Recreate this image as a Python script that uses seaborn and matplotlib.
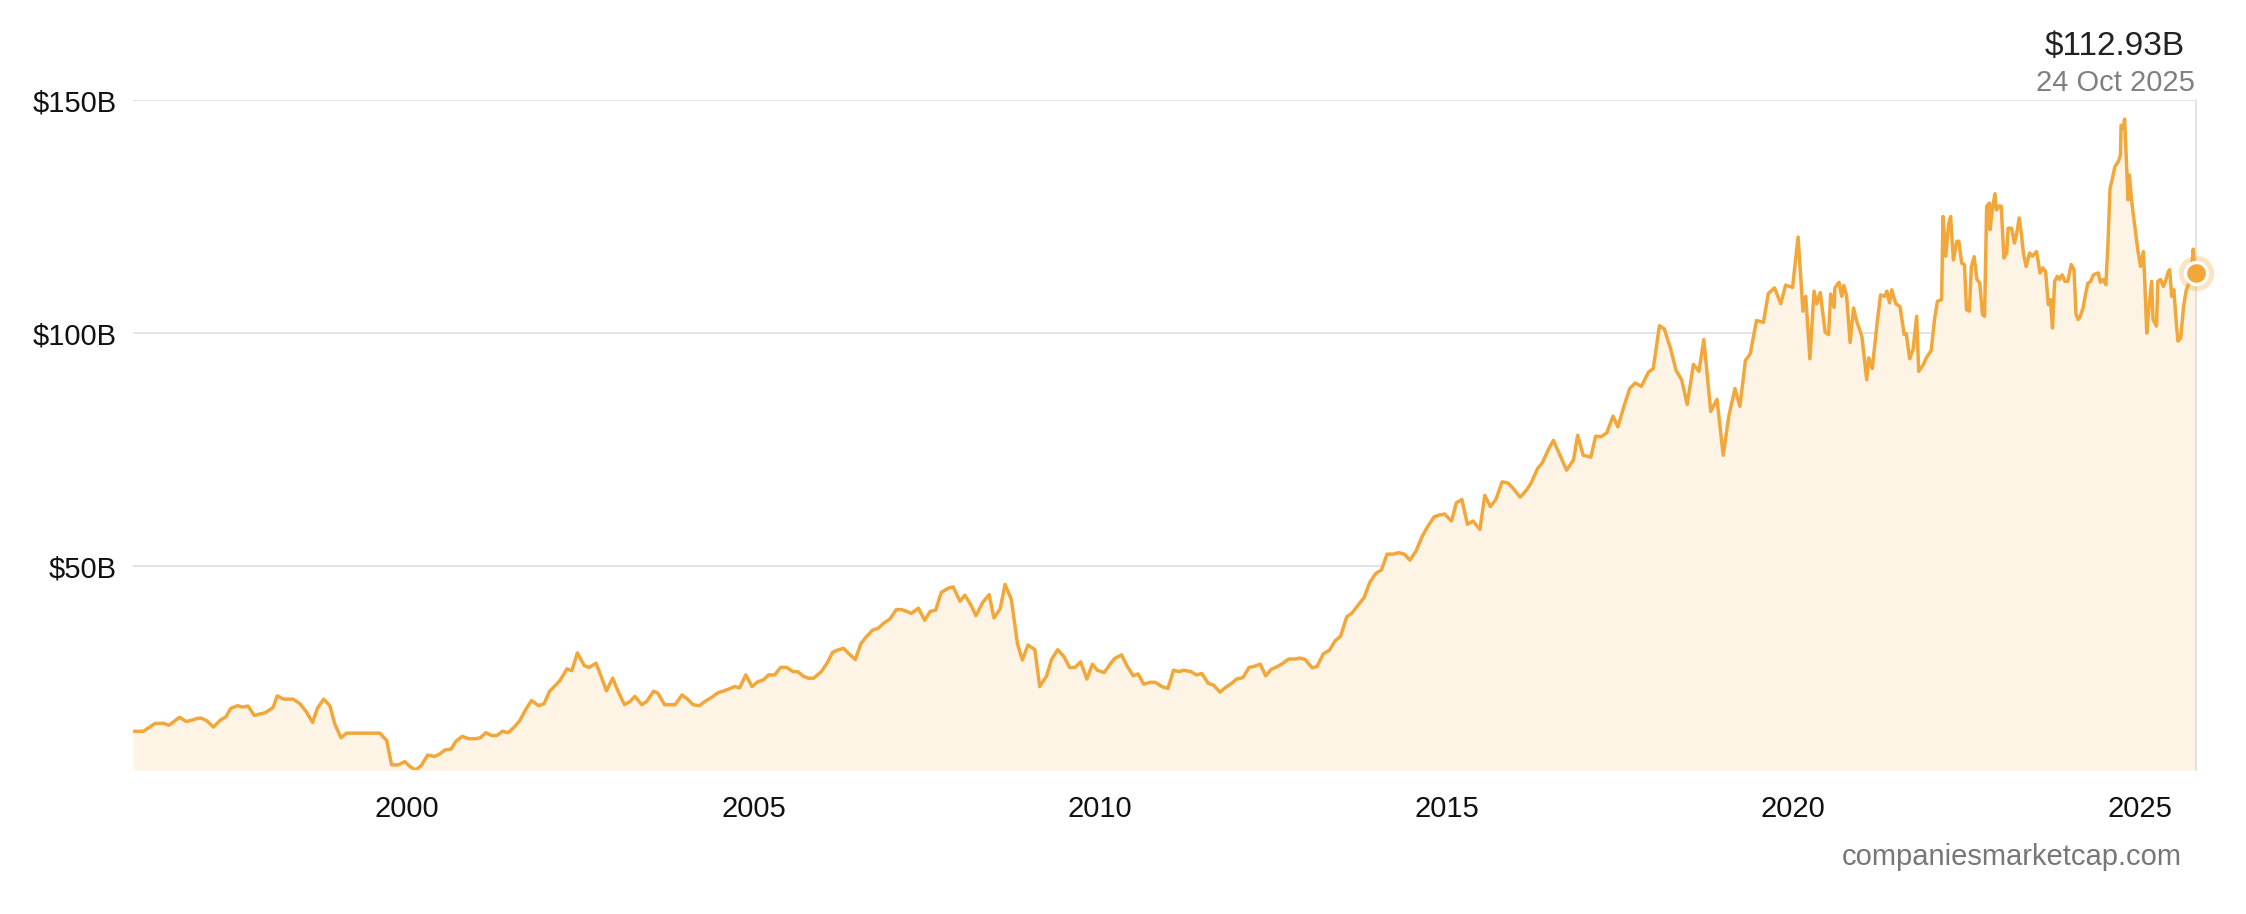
import numpy as np
import pandas as pd
import matplotlib
matplotlib.use("Agg")
import matplotlib.pyplot as plt
import seaborn as sns

# ---------------- data (decimal years, market cap in $B) ----------------
years = [
    1996.05, 1996.20, 1996.37, 1996.49, 1996.57, 1996.72, 1996.82, 1996.90, 1996.99, 1997.04,
    1997.12, 1997.21, 1997.31, 1997.39, 1997.46, 1997.56, 1997.62, 1997.71, 1997.80, 1997.88,
    1997.96, 1998.07, 1998.13, 1998.22, 1998.36, 1998.46, 1998.55, 1998.64, 1998.71, 1998.80,
    1998.89, 1998.96, 1999.05, 1999.13, 1999.23, 1999.61, 1999.71, 1999.78, 1999.88, 1999.97,
    2000.05, 2000.13, 2000.21, 2000.30, 2000.40, 2000.47, 2000.55, 2000.64, 2000.71, 2000.80,
    2000.90, 2000.98, 2001.06, 2001.14, 2001.22, 2001.30, 2001.38, 2001.46, 2001.55,
    2001.63, 2001.72, 2001.80, 2001.90, 2001.98, 2002.06, 2002.14, 2002.21, 2002.31, 2002.38,
    2002.46, 2002.56, 2002.63, 2002.73, 2002.80, 2002.88, 2002.97, 2003.05, 2003.14, 2003.22,
    2003.29, 2003.39, 2003.46, 2003.56, 2003.62, 2003.72, 2003.87, 2003.97, 2004.05, 2004.13,
    2004.22, 2004.30, 2004.40, 2004.48, 2004.58, 2004.65, 2004.73, 2004.80, 2004.89, 2004.98,
    2005.06, 2005.14, 2005.22, 2005.31, 2005.39, 2005.48, 2005.57, 2005.64, 2005.72, 2005.79,
    2005.87, 2005.98, 2006.07, 2006.14, 2006.21, 2006.30, 2006.38, 2006.47, 2006.55, 2006.63,
    2006.72, 2006.80, 2006.88, 2006.97, 2007.06, 2007.14, 2007.28, 2007.38,
    2007.47, 2007.55, 2007.63, 2007.71, 2007.80, 2007.88, 2007.98, 2008.05, 2008.13, 2008.21,
    2008.31, 2008.40, 2008.47, 2008.56, 2008.63, 2008.72, 2008.81, 2008.88, 2008.96, 2009.06,
    2009.13, 2009.23, 2009.30, 2009.39, 2009.48, 2009.56, 2009.64, 2009.72, 2009.81, 2009.89,
    2009.96, 2010.06, 2010.14, 2010.21, 2010.31, 2010.39, 2010.48, 2010.55, 2010.63, 2010.72,
    2010.80, 2010.89, 2010.98, 2011.06, 2011.14, 2011.21, 2011.31, 2011.39, 2011.47, 2011.56,
    2011.64, 2011.73, 2011.81, 2011.90, 2011.97, 2012.06, 2012.15, 2012.22, 2012.31, 2012.39,
    2012.47, 2012.56, 2012.63, 2012.72, 2012.81,
    2012.88, 2012.96, 2013.06, 2013.13, 2013.22, 2013.31, 2013.39, 2013.47, 2013.56, 2013.63,
    2013.72, 2013.81, 2013.89, 2013.98, 2014.06, 2014.14, 2014.23, 2014.31, 2014.39, 2014.47,
    2014.56, 2014.65, 2014.73, 2014.82, 2014.90, 2014.97, 2015.07, 2015.14, 2015.22, 2015.30,
    2015.38, 2015.48, 2015.55, 2015.63, 2015.71, 2015.80, 2015.89, 2015.97, 2016.06, 2016.15,
    2016.22, 2016.31, 2016.38, 2016.47, 2016.54, 2016.63, 2016.73, 2016.83, 2016.89, 2016.97,
    2017.08, 2017.15, 2017.23, 2017.31, 2017.40, 2017.47, 2017.56, 2017.64, 2017.72, 2017.81,
    2017.91, 2017.98, 2018.07, 2018.14, 2018.23, 2018.31, 2018.39, 2018.47, 2018.56, 2018.64,
    2018.71,
    2018.81, 2018.90, 2018.99, 2019.07, 2019.16, 2019.23, 2019.31, 2019.38, 2019.47, 2019.57,
    2019.64, 2019.73, 2019.82, 2019.89, 2019.99, 2020.07, 2020.14, 2020.18, 2020.24, 2020.30,
    2020.34, 2020.39, 2020.46, 2020.51, 2020.54, 2020.59, 2020.60, 2020.66, 2020.70, 2020.73,
    2020.77, 2020.82, 2020.87, 2020.91, 2020.99, 2021.06, 2021.09, 2021.14, 2021.21, 2021.26,
    2021.32, 2021.35, 2021.39, 2021.42, 2021.48, 2021.54, 2021.60, 2021.63, 2021.68, 2021.73,
    2021.78, 2021.81, 2021.88, 2021.92, 2021.99, 2022.04, 2022.08, 2022.14, 2022.16, 2022.20,
    2022.24, 2022.27, 2022.31, 2022.36, 2022.39, 2022.43, 2022.47, 2022.50, 2022.54, 2022.57,
    2022.61, 2022.65,
    2022.69, 2022.73, 2022.76, 2022.79, 2022.83, 2022.84, 2022.87, 2022.91, 2022.93, 2022.97,
    2023.00, 2023.04, 2023.08, 2023.10, 2023.15, 2023.19, 2023.22, 2023.26, 2023.29, 2023.32,
    2023.36, 2023.41, 2023.45, 2023.51, 2023.56, 2023.60, 2023.64, 2023.68, 2023.71, 2023.74,
    2023.77, 2023.81, 2023.84, 2023.88, 2023.92, 2023.96, 2024.01, 2024.05, 2024.08, 2024.11,
    2024.14, 2024.18, 2024.22, 2024.25, 2024.29, 2024.33, 2024.36, 2024.40, 2024.43, 2024.47,
    2024.51, 2024.54, 2024.57, 2024.60, 2024.64, 2024.69, 2024.72, 2024.73, 2024.76, 2024.78,
    2024.81, 2024.83, 2024.85, 2024.88, 2024.90, 2024.94, 2024.97, 2025.01, 2025.05, 2025.07,
    2025.10, 2025.13, 2025.17, 2025.19, 2025.24, 2025.26, 2025.30, 2025.34, 2025.37, 2025.41,
    2025.43, 2025.46, 2025.49, 2025.53, 2025.55, 2025.59, 2025.63, 2025.67, 2025.71, 2025.74,
    2025.77, 2025.79, 2025.81,
]

market_cap = [
    14.6, 14.6, 16.3, 16.3, 15.9, 17.6, 16.7, 17.0, 17.4, 17.4,
    16.8, 15.5, 17.0, 17.7, 19.5, 20.1, 19.8, 20.0, 18.0, 18.3,
    18.6, 19.7, 22.2, 21.5, 21.5, 20.5, 18.8, 16.5, 19.5, 21.5,
    20.1, 16.2, 13.2, 14.2, 14.2, 14.2, 12.6, 7.4, 7.4, 8.1,
    7.0, 6.3, 7.3, 9.5, 9.2, 9.7, 10.6, 10.8, 12.5, 13.5,
    13.0, 13.0, 13.2, 14.3, 13.7, 13.7, 14.6, 14.3, 15.5,
    16.9, 19.4, 21.2, 20.1, 20.5, 23.2, 24.4, 25.5, 28.0, 27.6,
    31.4, 28.7, 28.3, 29.2, 26.5, 23.3, 26.0, 23.1, 20.3, 21.0,
    22.1, 20.3, 21.0, 23.2, 22.8, 20.3, 20.3, 22.4, 21.5, 20.3,
    20.1, 21.0, 21.9, 22.8, 23.3, 23.7, 24.2, 23.9, 26.7, 24.2,
    25.2, 25.6, 26.7, 26.7, 28.3, 28.3, 27.4, 27.4, 26.4, 26.0,
    26.0, 27.4, 29.4, 31.5, 32.0, 32.4, 31.2, 30.0, 33.4, 34.9,
    36.3, 36.7, 37.8, 38.7, 40.7, 40.7, 39.9, 41.0,
    38.4, 40.3, 40.6, 44.4, 45.2, 45.6, 42.5, 43.8, 41.9, 39.4,
    42.3, 43.9, 38.9, 40.9, 46.1, 42.9, 33.3, 29.9, 33.1, 32.1,
    24.2, 26.5, 30.0, 32.1, 30.6, 28.3, 28.3, 29.5, 25.8, 29.0,
    27.7, 27.2, 28.9, 30.2, 31.0, 28.6, 26.5, 26.9, 24.7, 25.1,
    25.1, 24.2, 23.8, 27.7, 27.4, 27.7, 27.4, 26.7, 27.0, 24.9,
    24.5, 23.0, 24.0, 24.9, 25.8, 26.1, 28.3, 28.5, 29.0, 26.5,
    27.9, 28.5, 29.1, 30.1, 30.1,
    30.3, 30.0, 28.2, 28.5, 31.2, 32.0, 34.0, 35.0, 39.2, 39.9,
    41.6, 43.3, 46.5, 48.5, 49.2, 52.6, 52.6, 52.9, 52.6, 51.3,
    53.3, 56.5, 58.6, 60.6, 61.0, 61.2, 59.7, 63.6, 64.3, 59.0,
    59.7, 57.9, 65.2, 62.8, 64.3, 68.1, 67.8, 66.5, 64.8, 66.3,
    67.9, 70.9, 72.2, 75.1, 77.0, 74.0, 70.6, 72.8, 78.1, 73.8,
    73.4, 77.9, 77.8, 78.6, 82.2, 79.9, 84.4, 88.1, 89.3, 88.6,
    91.6, 92.4, 101.6, 100.9, 96.7, 92.0, 90.0, 84.7, 93.3, 91.8,
    98.6,
    83.2, 85.8, 73.8, 82.2, 88.1, 84.3, 94.1, 95.6, 102.7, 102.3,
    108.5, 109.7, 106.3, 110.3, 109.8, 120.6, 104.7, 107.9, 94.5, 109.0,
    106.3, 108.7, 100.2, 99.7, 108.4, 105.5, 109.7, 110.9, 107.9, 110.2,
    108.0, 98.0, 105.4, 102.8, 99.3, 90.0, 94.7, 92.4, 102.2, 108.2,
    107.9, 109.0, 106.5, 109.3, 106.3, 105.7, 99.7, 99.9, 94.5, 96.6,
    103.6, 91.8, 93.3, 94.7, 96.3, 103.2, 106.8, 107.2, 125.0, 116.5,
    123.2, 125.0, 115.7, 119.7, 119.7, 115.0, 114.7, 105.0, 104.7, 114.3,
    116.4, 111.5,
    110.8, 104.0, 103.6, 127.2, 127.9, 122.2, 126.4, 129.9, 126.4, 127.3,
    127.2, 116.1, 117.2, 122.5, 122.5, 119.3, 121.1, 124.7, 121.4, 117.2,
    114.3, 117.2, 116.5, 117.5, 112.9, 114.0, 113.2, 106.1, 107.2, 101.1,
    111.1, 112.2, 111.5, 112.5, 111.1, 111.1, 114.7, 113.6, 104.0, 102.9,
    103.6, 105.4, 108.6, 110.7, 111.1, 112.5, 112.7, 112.9, 110.9, 111.5,
    110.4, 119.3, 131.1, 132.9, 135.7, 136.8, 138.2, 144.6, 143.9, 145.9,
    135.7, 128.6, 133.9, 128.6, 126.1, 121.4, 117.9, 114.3, 117.5, 111.5,
    100.0, 105.4, 111.1, 102.9, 101.5, 111.1, 111.5, 110.0, 111.1, 113.2,
    113.6, 107.9, 109.3, 101.5, 98.3, 99.0, 105.7, 109.3, 110.7, 112.5,
    118.0, 112.9, 112.93,
]

x_ticks = [2000, 2005, 2010, 2015, 2020, 2025]
x_tick_labels = ["2000", "2005", "2010", "2015", "2020", "2025"]
y_ticks = [50, 100, 150]
y_tick_labels = ["$50B", "$100B", "$150B"]

last_value_label = "$112.93B"
last_date_label = "24 Oct 2025"
source_label = "companiesmarketcap.com"

# ---------------- plotting ----------------
df = pd.DataFrame({"year": years, "cap": market_cap})

sns.set_theme(style="white")
plt.rcParams["font.family"] = ["Liberation Sans", "DejaVu Sans"]

W, H = 2246, 914
fig = plt.figure(figsize=(W / 100, H / 100), dpi=100)
ax = fig.add_axes([133 / W, 1 - 770 / H, (2196 - 133) / W, (770 - 100) / H])

LINE = "#F2A73B"
FILL = "#FDF4E5"

ymin = min(market_cap)
ax.fill_between(df["year"], df["cap"], ymin, color=FILL, linewidth=0, zorder=1)
sns.lineplot(data=df, x="year", y="cap", ax=ax, color=LINE, linewidth=2.5, zorder=3,
             estimator=None, sort=False)

ax.set_xlim(years[0], years[-1])
ax.set_ylim(ymin, 150)

ax.set_yticks(y_ticks)
ax.set_yticklabels(y_tick_labels)
ax.set_xticks(x_ticks)
ax.set_xticklabels(x_tick_labels)
ax.set_xlabel("")
ax.set_ylabel("")

ax.yaxis.grid(True, color="#DCDCDC", linewidth=1.1, zorder=0)
ax.xaxis.grid(False)
ax.set_axisbelow(True)
for side in ["left", "top", "bottom"]:
    ax.spines[side].set_visible(False)
ax.spines["right"].set_color("#DCDCDC")
ax.spines["right"].set_linewidth(1.1)

ax.tick_params(axis="y", length=0, pad=12, labelsize=21, labelcolor="#111111")
ax.tick_params(axis="x", length=0, pad=18, labelsize=21, labelcolor="#111111")

# end marker
ax.scatter([years[-1]], [market_cap[-1]], s=650, color=LINE, alpha=0.3,
           linewidths=0, zorder=4, clip_on=False)
ax.scatter([years[-1]], [market_cap[-1]], s=250, color=LINE, edgecolors="white",
           linewidths=2.4, zorder=5, clip_on=False)

fig.text(2115 / W, 1 - 46 / H, last_value_label, ha="center", va="center",
         fontsize=24, color="#222222")
fig.text(2115 / W, 1 - 83 / H, last_date_label, ha="center", va="center",
         fontsize=21, color="#808080")
fig.text(2182 / W, 1 - 857 / H, source_label, ha="right", va="center",
         fontsize=21, color="#777777")

fig.savefig("out.png", dpi=100, facecolor="white")
